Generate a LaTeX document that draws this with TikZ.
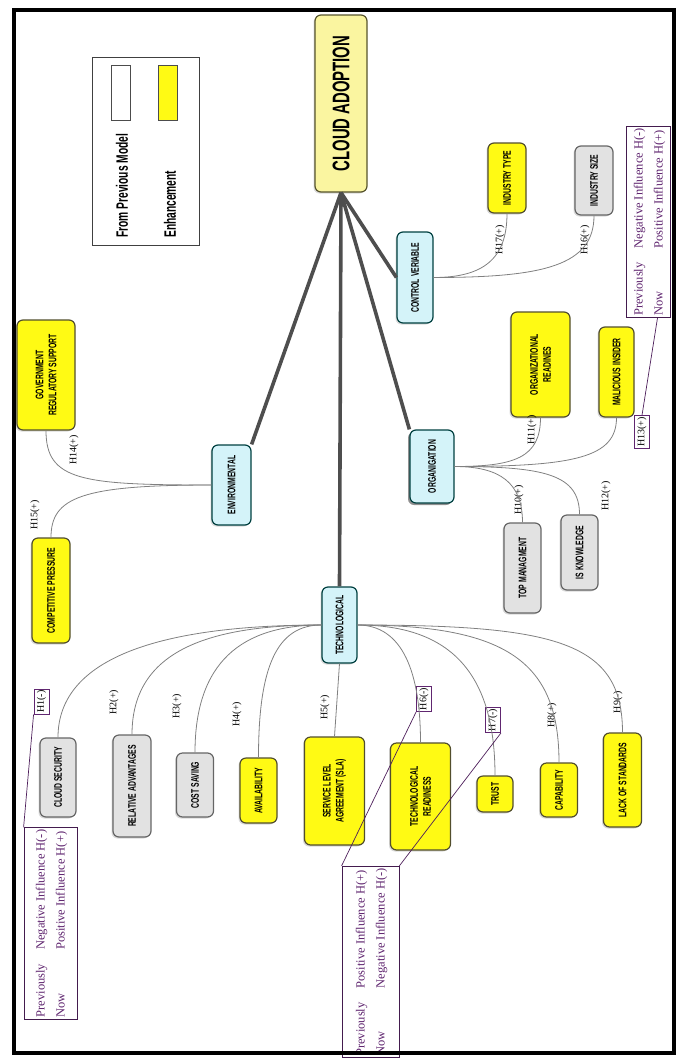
\documentclass[tikz,border=0pt]{standalone}
\usepackage{fontspec}
\setmainfont{Liberation Serif}
\newfontfamily\boxfont[FakeStretch=0.62]{Liberation Sans}
\usetikzlibrary{shadows,calc}

\definecolor{enhyellow}{RGB}{255,250,20}
\definecolor{rootyellow}{RGB}{250,245,160}
\definecolor{prevgray}{RGB}{226,226,226}
\definecolor{factorcyan}{RGB}{212,243,249}
\definecolor{trunkgray}{RGB}{78,78,78}
\definecolor{notepurple}{RGB}{96,38,112}

\tikzset{
  topic/.style={rotate=90, draw=black!60, line width=1.2pt, rounded corners=6pt,
    font=\boxfont\bfseries\fontsize{11}{13}\selectfont, align=center,
    inner sep=2pt, minimum height=37pt,
    drop shadow={opacity=0.3, shadow xshift=-1.5pt, shadow yshift=-1.5pt}},
  enhanced/.style={topic, fill=enhyellow, draw=black!55!olive},
  previous/.style={topic, fill=prevgray},
  factor/.style={topic, fill=factorcyan, draw=black!50!teal},
  hyp/.style={rotate=90, font=\fontsize{10}{11}\selectfont, inner sep=1pt},
  hypbox/.style={hyp, draw=notepurple, line width=0.8pt, inner xsep=1.5pt, inner ysep=3pt},
  note/.style={rotate=90, draw=notepurple!70!black, line width=0.8pt, fill=white,
    text=notepurple, font=\fontsize{12.5}{20}\selectfont, inner sep=2pt},
  legendtxt/.style={rotate=90, font=\boxfont\bfseries\fontsize{16.5}{18}\selectfont, inner sep=0pt},
  swatch/.style={draw=black!70, line width=0.8pt, minimum width=19pt, minimum height=55pt, inner sep=0pt},
  trunk/.style={trunkgray, line width=3.6pt},
  twig/.style={black!50, line width=0.8pt},
  pointer/.style={notepurple!80!black, line width=0.7pt}
}
\newcommand{\influence}[2]{\begin{tabular}{@{}l@{\hspace{14pt}}l@{}}Previously & #1\\Now & #2\end{tabular}}

\begin{document}
\begin{tikzpicture}[x=1pt,y=-1pt]
\useasboundingbox (0,0) rectangle (684,1061);

% root and legend
\node[topic, fill=rootyellow, draw=black!50!olive, minimum width=177pt, minimum height=52pt,
  font=\boxfont\bfseries\fontsize{24}{25}\selectfont] (cloud) at (341,103.5) {CLOUD ADOPTION};
\draw[black!75, line width=0.9pt] (92,57) rectangle (199,245);
\node[swatch, fill=white] (swprev) at (121,92.5) {};
\node[swatch, fill=enhyellow] (swenh) at (168,92.5) {};
\node[legendtxt, anchor=west] (txprev) at (122,238) {From Previous Model};
\node[legendtxt, anchor=west] (txenh) at (170,238) {Enhancement};

% control variable
\node[factor, minimum width=91pt, minimum height=36pt] (control) at (415,277.5) {CONTROL VERIABLE};
\node[enhanced, minimum width=70pt, minimum height=38pt] (itype) at (507,178) {INDUSTRY TYPE};
\node[previous, minimum width=69pt, minimum height=38pt] (isize) at (594,180.5) {INDUSTRY SIZE};
\node[hyp] (h17) at (500,240) {H17(+)};
\node[hyp] (h16) at (585,240) {H16(+)};
\node[note] (noteorg) at (648.5,222) {\influence{Negative Influence H(-)}{Positive Influence H(+)}};

% environmental
\node[enhanced, minimum width=110pt, minimum height=58pt] (govt) at (46,375) {GOVERNMENT\\REGULATORY SUPPORT};
\node[hyp] (h14) at (74,450) {H14(+)};
\node[factor, minimum width=80pt, minimum height=39pt] (env) at (231.5,485) {ENVIRONMENTAL};
\node[hyp] (h15) at (35,515) {H15(+)};
\node[enhanced, minimum width=105pt, minimum height=38pt] (comp) at (51,590.5) {COMPETITIVE PRESSURE};

% organization
\node[factor, minimum width=73pt, minimum height=44pt,
  drop shadow={opacity=0.85, shadow xshift=-2pt, shadow yshift=-2pt}] (org) at (432,466.5) {ORGANIGATION};
\node[enhanced, minimum width=105pt, minimum height=59pt] (orgready) at (540.5,364.5) {ORGANIZATIONAL\\READINES};
\node[enhanced, minimum width=90pt, minimum height=35pt] (insider) at (616.5,372) {MALICIOUS INSIDER};
\node[hyp] (h11) at (532,430) {H11(+)};
\node[hypbox] (h13) at (642,432) {H13(+)};
\node[hyp] (h10) at (519,500) {H10(+)};
\node[hyp] (h12) at (606,496) {H12(+)};
\node[previous, minimum width=90pt, minimum height=37pt] (topmgmt) at (522.5,568) {TOP MANAGMENT};
\node[previous, minimum width=75pt, minimum height=37pt] (isknow) at (579.5,552.5) {IS KNOWLEDGE};

% technological
\node[factor, minimum width=76pt, minimum height=35pt] (tech) at (339.5,625) {TECHNOLOGICAL};
\node[hypbox] (h1) at (41.5,701.5) {H1(-)};
\node[previous, minimum width=79pt, minimum height=36pt] (csec) at (58,777.5) {CLOUD SECURITY};
\node[hyp] (h2) at (114,702) {H2(+)};
\node[previous, minimum width=102pt, minimum height=38pt] (relad) at (132,786) {RELATIVE ADVANTAGES};
\node[hyp] (h3) at (177,706) {H3(+)};
\node[previous, minimum width=64pt, minimum height=37pt] (cost) at (195,785) {COST SAVING};
\node[hyp] (h4) at (237,714) {H4(+)};
\node[enhanced, minimum width=65pt, minimum height=37pt] (avail) at (258.5,790.5) {AVAILABILITY};
\node[hyp] (h5) at (325,707) {H5(+)};
\node[enhanced, minimum width=108pt, minimum height=60pt] (sla) at (334.5,791) {SERVICE LEVEL\\AGREEMENT (SLA)};
\node[hypbox] (h6) at (424,699) {H6(-)};
\node[enhanced, minimum width=107pt, minimum height=60pt] (techready) at (420.5,796.5) {TECHNOLOGICAL\\READINESS};
\node[hypbox] (h7) at (493,720) {H7(-)};
\node[enhanced, minimum width=36pt, minimum height=36pt] (trust) at (495,794) {TRUST};
\node[hyp] (h8) at (552,715) {H8(+)};
\node[enhanced, minimum width=54pt, minimum height=37pt] (capab) at (559,790) {CAPABILITY};
\node[hyp] (h9) at (618,702) {H9(-)};
\node[enhanced, minimum width=94pt, minimum height=38pt] (lack) at (622.5,780) {LACK OF STANDARDS};
\node[note, minimum height=53pt] (notesec) at (50.5,923.5) {\influence{Negative Influence H(-)}{Positive Influence H(+)}};
\node[note, minimum height=57pt] (noteready) at (370.5,962) {\influence{Positive Influence H(+)}{Negative Influence H(-)}};

% main branches
\draw[trunk] (cloud.west) -- (env.south east);
\draw[trunk] (cloud.west) -- (tech.east);
\draw[trunk] (cloud.west) -- (org.north east);
\draw[trunk] (cloud.west) -- (control.north);

% sub branches
\draw[twig] (control.south) .. controls +(50,0) and +(0,45) .. (itype.west);
\draw[twig] (control.south) .. controls +(110,0) and +(0,50) .. (isize.west);
\draw[twig] (env.north) .. controls +(-130,0) and +(0,50) .. (govt.west);
\draw[twig] (env.north) .. controls +(-130,0) and +(0,-40) .. (comp.east);
\draw[twig] (org.south) .. controls +(60,0) and +(0,40) .. (orgready.west);
\draw[twig] (org.south) .. controls +(120,0) and +(0,40) .. (insider.west);
\draw[twig] (org.south) .. controls +(45,0) and +(0,-40) .. (topmgmt.east);
\draw[twig] (org.south) .. controls +(90,0) and +(0,-40) .. (isknow.east);
\draw[twig] (tech.north) .. controls +(-160,0) and +(0,-80) .. (csec.east);
\draw[twig] (tech.north) .. controls +(-120,0) and +(0,-80) .. (relad.east);
\draw[twig] (tech.north) .. controls +(-80,0) and +(0,-90) .. (cost.east);
\draw[twig] (tech.north) .. controls +(-45,0) and +(0,-90) .. (avail.east);
\draw[twig] (tech.west) -- (sla.east);
\draw[twig] (tech.south) .. controls +(45,0) and +(0,-70) .. (techready.east);
\draw[twig] (tech.south) .. controls +(95,0) and +(0,-100) .. (trust.east);
\draw[twig] (tech.south) .. controls +(150,0) and +(0,-100) .. (capab.east);
\draw[twig] (tech.south) .. controls +(200,0) and +(0,-90) .. (lack.east);

% callout pointers
\draw[pointer] (h13.east) -- ($(noteorg.south west)!0.3!(noteorg.north west)$);
\draw[pointer] (h1.north west) -- (notesec.north east);
\draw[pointer] (h6.north west) -- (noteready.north east);
\draw[pointer] (h7.south west) -- (noteready.south east);

\draw[line width=4.5pt] (14,10) rectangle (674,1053);
\end{tikzpicture}
\end{document}
